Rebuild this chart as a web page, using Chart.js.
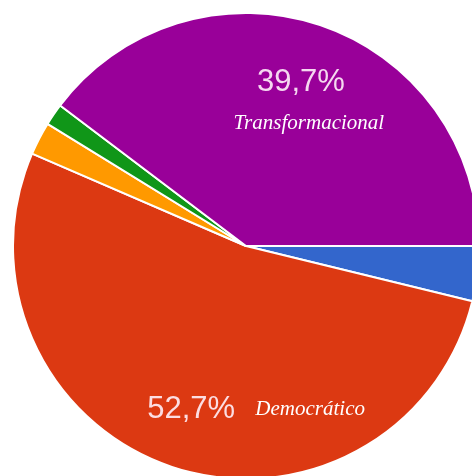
<!DOCTYPE html>
<html>
<head>
<meta charset="utf-8">
<script src="https://cdn.jsdelivr.net/npm/chart.js@4"></script>
<style>
  html, body { margin: 0; padding: 0; background: #fff; }
  #wrap { position: relative; width: 472px; height: 476px; overflow: hidden; }
  #chart1 { position: absolute; left: 12px; top: 12px; }
</style>
</head>
<body>
<div id="wrap"><canvas id="chart1" width="468" height="468"></canvas></div>
<script>
// respuestas por estilo de liderazgo (en orden de las agujas del reloj desde las 3)
const estilos = ['Autocrático', 'Democrático', 'Laissez-faire', 'Transaccional', 'Transformacional'];
const respuestas = [5, 69, 3, 2, 52];
const colores = ['#3366cc', '#dc3912', '#ff9900', '#109618', '#990099'];
// solo estos estilos llevan etiqueta escrita a mano
const etiquetas = ['', 'Democrático', '', '', 'Transformacional'];
const desplazamientos = [null, [119, 0], null, null, [8, 41]];

const total = respuestas.reduce((a, b) => a + b, 0);

function porcentaje(v) {
  return (v / total * 100).toFixed(1).replace('.', ',') + '%';
}

// dibuja el % y el nombre encima de cada porcion
const etiquetasPlugin = {
  id: 'etiquetas',
  afterDatasetsDraw(chart) {
    const ctx = chart.ctx;
    const arcs = chart.getDatasetMeta(0).data;
    ctx.save();
    ctx.textAlign = 'center';
    ctx.textBaseline = 'middle';
    for (let i = 0; i < arcs.length; i++) {
      if (!etiquetas[i]) continue;
      const a = arcs[i].getProps(['x', 'y', 'startAngle', 'endAngle', 'outerRadius'], true);
      const mid = (a.startAngle + a.endAngle) / 2;
      const d = a.outerRadius * 0.74;
      const px = a.x + Math.cos(mid) * d;
      const py = a.y + Math.sin(mid) * d;
      ctx.fillStyle = 'rgba(255,240,250,0.9)';
      ctx.font = '31px "Liberation Sans", Arial, sans-serif';
      ctx.fillText(porcentaje(respuestas[i]), px, py);
      ctx.fillStyle = '#ffffff';
      ctx.font = 'italic 21px "Liberation Serif", "DejaVu Serif", serif';
      ctx.fillText(etiquetas[i], px + desplazamientos[i][0], py + desplazamientos[i][1]);
    }
    ctx.restore();
  }
};

const canva1 = document.getElementById('chart1').getContext('2d');
const pieChart = new Chart(canva1, {
  type: 'pie',
  data: {
    labels: estilos,
    datasets: [{
      data: respuestas,
      backgroundColor: colores,
      borderColor: '#ffffff',
      borderWidth: 2
    }]
  },
  options: {
    responsive: false,
    animation: false,
    rotation: 90,
    layout: { padding: 0 },
    plugins: {
      legend: { display: false },
      tooltip: { enabled: false }
    }
  },
  plugins: [etiquetasPlugin]
});
</script>
</body>
</html>
